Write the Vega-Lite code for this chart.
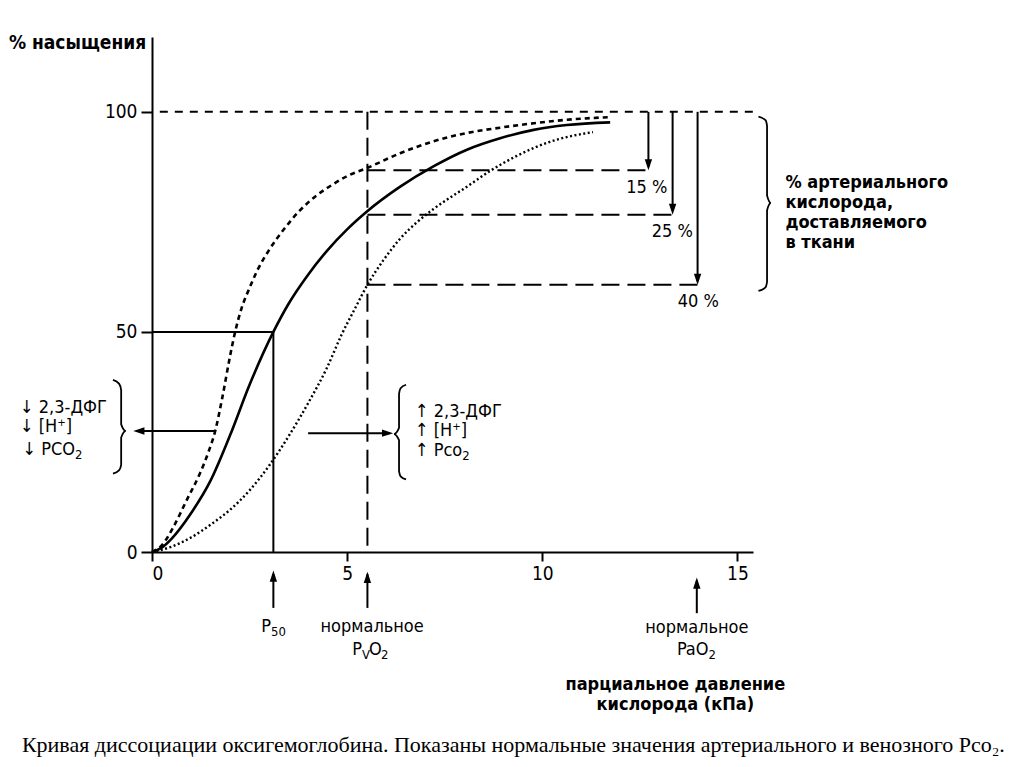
{
  "$schema": "https://vega.github.io/schema/vega-lite/v6.json",
  "width": 601,
  "height": 515,
  "autosize": {"type": "none"},
  "padding": {"left": 152, "top": 37, "right": 271, "bottom": 215},
  "background": "white",
  "config": {
    "view": {"stroke": null},
    "axis": {
      "domainColor": "black", "domainWidth": 2, "tickColor": "black", "tickWidth": 2,
      "labelColor": "black", "labelFont": "Liberation Sans Narrow, DejaVu Sans Condensed, sans-serif",
      "labelFontSize": 19, "grid": false, "title": null
    }
  },
  "datasets": {
    "curves": [
      {"c": "normal", "x": 0, "y": 0}, {"c": "normal", "x": 0.25, "y": 1.0}, {"c": "normal", "x": 0.5, "y": 3.0},
      {"c": "normal", "x": 1.0, "y": 8.8}, {"c": "normal", "x": 1.5, "y": 16.2}, {"c": "normal", "x": 2.0, "y": 26.5},
      {"c": "normal", "x": 2.5, "y": 38.0}, {"c": "normal", "x": 3.11, "y": 50}, {"c": "normal", "x": 3.5, "y": 56.4},
      {"c": "normal", "x": 4.0, "y": 63.0}, {"c": "normal", "x": 4.5, "y": 68.6}, {"c": "normal", "x": 5.0, "y": 73.3},
      {"c": "normal", "x": 5.5, "y": 77.3}, {"c": "normal", "x": 6.36, "y": 83.0}, {"c": "normal", "x": 7.21, "y": 87.6},
      {"c": "normal", "x": 8.07, "y": 91.4}, {"c": "normal", "x": 8.92, "y": 94.0}, {"c": "normal", "x": 9.78, "y": 95.9},
      {"c": "normal", "x": 10.63, "y": 97.0}, {"c": "normal", "x": 11.74, "y": 97.6},
      {"c": "left", "x": 0, "y": 0}, {"c": "left", "x": 0.25, "y": 1.5}, {"c": "left", "x": 0.55, "y": 5.7},
      {"c": "left", "x": 0.89, "y": 11.8}, {"c": "left", "x": 1.23, "y": 17.9}, {"c": "left", "x": 1.45, "y": 22.8},
      {"c": "left", "x": 1.62, "y": 27.5}, {"c": "left", "x": 1.8, "y": 35.0}, {"c": "left", "x": 2.0, "y": 44.5},
      {"c": "left", "x": 2.13, "y": 50.0}, {"c": "left", "x": 2.3, "y": 55.5}, {"c": "left", "x": 2.5, "y": 60.0},
      {"c": "left", "x": 2.7, "y": 64.0}, {"c": "left", "x": 3.0, "y": 68.6}, {"c": "left", "x": 3.37, "y": 73.2},
      {"c": "left", "x": 3.79, "y": 77.6}, {"c": "left", "x": 4.2, "y": 80.9}, {"c": "left", "x": 4.65, "y": 83.6},
      {"c": "left", "x": 5.0, "y": 85.4}, {"c": "left", "x": 5.5, "y": 87.2}, {"c": "left", "x": 6.36, "y": 90.6},
      {"c": "left", "x": 7.21, "y": 93.3}, {"c": "left", "x": 8.07, "y": 95.2}, {"c": "left", "x": 8.92, "y": 96.4},
      {"c": "left", "x": 9.78, "y": 97.4}, {"c": "left", "x": 10.63, "y": 98.2}, {"c": "left", "x": 11.74, "y": 98.8},
      {"c": "right", "x": 0, "y": 0}, {"c": "right", "x": 0.5, "y": 1.2}, {"c": "right", "x": 1.0, "y": 3.3},
      {"c": "right", "x": 1.5, "y": 6.2}, {"c": "right", "x": 2.0, "y": 9.6}, {"c": "right", "x": 2.5, "y": 14.0},
      {"c": "right", "x": 3.0, "y": 19.6}, {"c": "right", "x": 3.5, "y": 26.3}, {"c": "right", "x": 4.0, "y": 33.8},
      {"c": "right", "x": 4.48, "y": 41.8}, {"c": "right", "x": 4.86, "y": 49.4}, {"c": "right", "x": 5.2, "y": 55.3},
      {"c": "right", "x": 5.52, "y": 60.7}, {"c": "right", "x": 5.93, "y": 66.3}, {"c": "right", "x": 6.36, "y": 71.2},
      {"c": "right", "x": 6.8, "y": 75.0}, {"c": "right", "x": 7.21, "y": 77.9}, {"c": "right", "x": 8.07, "y": 83.0},
      {"c": "right", "x": 8.67, "y": 86.6}, {"c": "right", "x": 9.35, "y": 90.0}, {"c": "right", "x": 10.2, "y": 93.2},
      {"c": "right", "x": 11.3, "y": 95.4}
    ],
    "segs": [
      {"s": "solid", "x": 0, "y": 50, "x2": 3.11, "y2": 50},
      {"s": "solid", "x": 3.11, "y": 50, "x2": 3.11, "y2": 0},
      {"s": "long", "x": 5.52, "y": 100, "x2": 5.52, "y2": 0},
      {"s": "long", "x": 5.52, "y": 86.7, "x2": 12.72, "y2": 86.7},
      {"s": "long", "x": 5.52, "y": 76.6, "x2": 13.34, "y2": 76.6},
      {"s": "long", "x": 5.52, "y": 60.7, "x2": 13.98, "y2": 60.7},
      {"s": "short", "x": 0.2, "y": 100, "x2": 15.45, "y2": 100},
      {"s": "arrow", "x": 12.72, "y": 100, "x2": 12.72, "y2": 87.5},
      {"s": "arrow", "x": 13.34, "y": 100, "x2": 13.34, "y2": 77.5},
      {"s": "arrow", "x": 13.98, "y": 100, "x2": 13.98, "y2": 61.5},
      {"s": "arrow", "x": 3.11, "y": -12.7, "x2": 3.11, "y2": -5},
      {"s": "arrow", "x": 5.52, "y": -12.7, "x2": 5.52, "y2": -5},
      {"s": "arrow", "x": 13.96, "y": -13.9, "x2": 13.96, "y2": -6.5},
      {"s": "arrow", "x": 1.62, "y": 27.5, "x2": -0.4, "y2": 27.5},
      {"s": "arrow", "x": 4.0, "y": 27.0, "x2": 6.1, "y2": 27.0}
    ],
    "heads": [
      {"d": "down", "x": 12.72, "y": 86.7},
      {"d": "down", "x": 13.34, "y": 76.6},
      {"d": "down", "x": 13.98, "y": 60.7},
      {"d": "up", "x": 3.11, "y": -4.2},
      {"d": "up", "x": 5.52, "y": -4.5},
      {"d": "up", "x": 13.96, "y": -5.8},
      {"d": "left", "x": -0.48, "y": 27.5},
      {"d": "right", "x": 6.18, "y": 27.0}
    ],
    "braces": [
      {"b": "L", "i": 1, "x": -1.0, "y": 39.1}, {"b": "L", "i": 2, "x": -0.84, "y": 38.2},
      {"b": "L", "i": 3, "x": -0.79, "y": 36.8}, {"b": "L", "i": 4, "x": -0.79, "y": 29.0},
      {"b": "L", "i": 5, "x": -0.67, "y": 27.5}, {"b": "L", "i": 6, "x": -0.79, "y": 26.0},
      {"b": "L", "i": 7, "x": -0.79, "y": 19.8}, {"b": "L", "i": 8, "x": -0.84, "y": 18.6},
      {"b": "L", "i": 9, "x": -1.0, "y": 17.8},
      {"b": "R", "i": 1, "x": 6.51, "y": 38.0}, {"b": "R", "i": 2, "x": 6.37, "y": 37.2},
      {"b": "R", "i": 3, "x": 6.33, "y": 35.9}, {"b": "R", "i": 4, "x": 6.33, "y": 28.2},
      {"b": "R", "i": 5, "x": 6.2, "y": 26.8}, {"b": "R", "i": 6, "x": 6.33, "y": 25.4},
      {"b": "R", "i": 7, "x": 6.33, "y": 18.4}, {"b": "R", "i": 8, "x": 6.37, "y": 17.2},
      {"b": "R", "i": 9, "x": 6.51, "y": 16.5},
      {"b": "B", "i": 1, "x": 15.54, "y": 98.9}, {"b": "B", "i": 2, "x": 15.72, "y": 98.1},
      {"b": "B", "i": 3, "x": 15.76, "y": 96.8}, {"b": "B", "i": 4, "x": 15.76, "y": 81.0},
      {"b": "B", "i": 5, "x": 15.86, "y": 79.3}, {"b": "B", "i": 6, "x": 15.76, "y": 77.6},
      {"b": "B", "i": 7, "x": 15.76, "y": 61.4}, {"b": "B", "i": 8, "x": 15.72, "y": 60.1},
      {"b": "B", "i": 9, "x": 15.54, "y": 59.3}
    ],
    "texts": [
      {"g": "center", "t": "15 %", "x": 12.68, "y": 82.7},
      {"g": "center", "t": "25 %", "x": 13.33, "y": 72.8},
      {"g": "center", "t": "40 %", "x": 14.0, "y": 56.9},
      {"g": "center", "t": "нормальное", "x": 5.64, "y": -17.0},
      {"g": "center", "t": "нормальное", "x": 13.96, "y": -17.3},
      {"g": "right", "t": "P", "x": 3.05, "y": -17.0},
      {"g": "sub", "t": "50", "x": 3.05, "y": -17.0},
      {"g": "right", "t": "P", "x": 5.38, "y": -22.2},
      {"g": "sub", "t": "V", "x": 5.38, "y": -22.2},
      {"g": "left", "t": "O", "x": 5.56, "y": -22.2},
      {"g": "sub", "t": "2", "x": 5.87, "y": -22.2},
      {"g": "right", "t": "PaO", "x": 14.26, "y": -22.2},
      {"g": "sub", "t": "2", "x": 14.26, "y": -22.2},
      {"g": "left", "t": "↓ 2,3-ДФГ", "x": -3.38, "y": 32.7},
      {"g": "left", "t": "↓ [H⁺]", "x": -3.38, "y": 28.3},
      {"g": "right", "t": "↓ PCO", "x": -1.97, "y": 23.2},
      {"g": "sub", "t": "2", "x": -1.97, "y": 23.2},
      {"g": "left", "t": "↑ 2,3-ДФГ", "x": 6.74, "y": 31.8},
      {"g": "left", "t": "↑ [H⁺]", "x": 6.74, "y": 27.5},
      {"g": "right", "t": "↑ Pco", "x": 7.95, "y": 22.9},
      {"g": "sub", "t": "2", "x": 7.95, "y": 22.9}
    ],
    "bold": [
      {"g": "right", "t": "% насыщения", "x": -0.15, "y": 115.7},
      {"g": "left", "t": "% артериального", "x": 16.23, "y": 83.9},
      {"g": "left", "t": "кислорода,", "x": 16.23, "y": 79.3},
      {"g": "left", "t": "доставляемого", "x": 16.23, "y": 74.8},
      {"g": "left", "t": "в ткани", "x": 16.23, "y": 70.2},
      {"g": "center", "t": "парциальное давление", "x": 13.41, "y": -30.2},
      {"g": "center", "t": "кислорода (кПа)", "x": 13.41, "y": -34.8}
    ],
    "caption": [
      {"t": "Кривая диссоциации оксигемоглобина. Показаны нормальные значения артериального и венозного Pco₂.", "x": 9.26, "y": -43.9}
    ]
  },
  "encoding": {
    "x": {"field": "x", "type": "quantitative", "scale": {"domain": [0, 15.4], "nice": false, "zero": false},
          "axis": {"values": [0, 5, 10, 15], "tickSize": 9, "labelPadding": 3, "title": null}},
    "y": {"field": "y", "type": "quantitative", "scale": {"domain": [0, 117], "nice": false, "zero": false},
          "axis": {"values": [0, 50, 100], "tickSize": 11, "labelPadding": 4, "title": null}}
  },
  "layer": [
    {
      "data": {"name": "segs"},
      "transform": [{"filter": "datum.s === 'solid' || datum.s === 'arrow'"}],
      "mark": {"type": "rule", "color": "black", "strokeWidth": 2},
      "encoding": {"x2": {"field": "x2"}, "y2": {"field": "y2"}}
    },
    {
      "data": {"name": "segs"},
      "transform": [{"filter": "datum.s === 'long'"}],
      "mark": {"type": "rule", "color": "black", "strokeWidth": 2, "strokeDash": [18, 8]},
      "encoding": {"x2": {"field": "x2"}, "y2": {"field": "y2"}}
    },
    {
      "data": {"name": "segs"},
      "transform": [{"filter": "datum.s === 'short'"}],
      "mark": {"type": "rule", "color": "black", "strokeWidth": 2, "strokeDash": [8, 7]},
      "encoding": {"x2": {"field": "x2"}, "y2": {"field": "y2"}}
    },
    {
      "data": {"name": "curves"},
      "transform": [{"filter": "datum.c === 'normal'"}],
      "mark": {"type": "line", "color": "black", "strokeWidth": 2.6, "interpolate": "monotone"}
    },
    {
      "data": {"name": "curves"},
      "transform": [{"filter": "datum.c === 'left'"}],
      "mark": {"type": "line", "color": "black", "strokeWidth": 2.6, "interpolate": "monotone", "strokeDash": [5, 4]}
    },
    {
      "data": {"name": "curves"},
      "transform": [{"filter": "datum.c === 'right'"}],
      "mark": {"type": "line", "color": "black", "strokeWidth": 2.4, "interpolate": "monotone", "strokeDash": [2, 2.5]}
    },
    {
      "data": {"name": "braces"},
      "mark": {"type": "line", "color": "black", "strokeWidth": 1.8, "interpolate": "monotone"},
      "encoding": {"detail": {"field": "b"}, "order": {"field": "i"}}
    },
    {
      "data": {"name": "heads"},
      "transform": [{"filter": "datum.d === 'down'"}],
      "mark": {"type": "point", "filled": true, "color": "black", "opacity": 1, "size": 500, "shape": "M -0.33 -1 L 0.33 -1 L 0 0 Z"}
    },
    {
      "data": {"name": "heads"},
      "transform": [{"filter": "datum.d === 'up'"}],
      "mark": {"type": "point", "filled": true, "color": "black", "opacity": 1, "size": 500, "shape": "M -0.33 1 L 0.33 1 L 0 0 Z"}
    },
    {
      "data": {"name": "heads"},
      "transform": [{"filter": "datum.d === 'left'"}],
      "mark": {"type": "point", "filled": true, "color": "black", "opacity": 1, "size": 500, "shape": "M 1 -0.33 L 1 0.33 L 0 0 Z"}
    },
    {
      "data": {"name": "heads"},
      "transform": [{"filter": "datum.d === 'right'"}],
      "mark": {"type": "point", "filled": true, "color": "black", "opacity": 1, "size": 500, "shape": "M -1 -0.33 L -1 0.33 L 0 0 Z"}
    },
    {
      "data": {"name": "texts"},
      "transform": [{"filter": "datum.g === 'center'"}],
      "mark": {"type": "text", "align": "center", "baseline": "middle", "fontSize": 18, "color": "black",
               "font": "Liberation Sans Narrow, DejaVu Sans Condensed, sans-serif"},
      "encoding": {"text": {"field": "t"}}
    },
    {
      "data": {"name": "texts"},
      "transform": [{"filter": "datum.g === 'left'"}],
      "mark": {"type": "text", "align": "left", "baseline": "middle", "fontSize": 18, "color": "black",
               "font": "Liberation Sans Narrow, DejaVu Sans Condensed, sans-serif"},
      "encoding": {"text": {"field": "t"}}
    },
    {
      "data": {"name": "texts"},
      "transform": [{"filter": "datum.g === 'right'"}],
      "mark": {"type": "text", "align": "right", "baseline": "middle", "fontSize": 18, "color": "black",
               "font": "Liberation Sans Narrow, DejaVu Sans Condensed, sans-serif"},
      "encoding": {"text": {"field": "t"}}
    },
    {
      "data": {"name": "texts"},
      "transform": [{"filter": "datum.g === 'sub'"}],
      "mark": {"type": "text", "align": "left", "baseline": "middle", "fontSize": 13, "dy": 5, "color": "black",
               "font": "Liberation Sans Narrow, DejaVu Sans Condensed, sans-serif"},
      "encoding": {"text": {"field": "t"}}
    },
    {
      "data": {"name": "bold"},
      "transform": [{"filter": "datum.g === 'center'"}],
      "mark": {"type": "text", "align": "center", "baseline": "middle", "fontSize": 18, "fontWeight": "bold", "color": "black",
               "font": "Liberation Sans Narrow, DejaVu Sans Condensed, sans-serif"},
      "encoding": {"text": {"field": "t"}}
    },
    {
      "data": {"name": "bold"},
      "transform": [{"filter": "datum.g === 'left'"}],
      "mark": {"type": "text", "align": "left", "baseline": "middle", "fontSize": 18, "fontWeight": "bold", "color": "black",
               "font": "Liberation Sans Narrow, DejaVu Sans Condensed, sans-serif"},
      "encoding": {"text": {"field": "t"}}
    },
    {
      "data": {"name": "bold"},
      "transform": [{"filter": "datum.g === 'right'"}],
      "mark": {"type": "text", "align": "right", "baseline": "middle", "fontSize": 19, "fontWeight": "bold", "color": "black",
               "font": "Liberation Sans Narrow, DejaVu Sans Condensed, sans-serif"},
      "encoding": {"text": {"field": "t"}}
    },
    {
      "data": {"name": "caption"},
      "mark": {"type": "text", "align": "center", "baseline": "middle", "fontSize": 22, "color": "black",
               "font": "Liberation Serif, DejaVu Serif, serif"},
      "encoding": {"text": {"field": "t"}}
    }
  ]
}
